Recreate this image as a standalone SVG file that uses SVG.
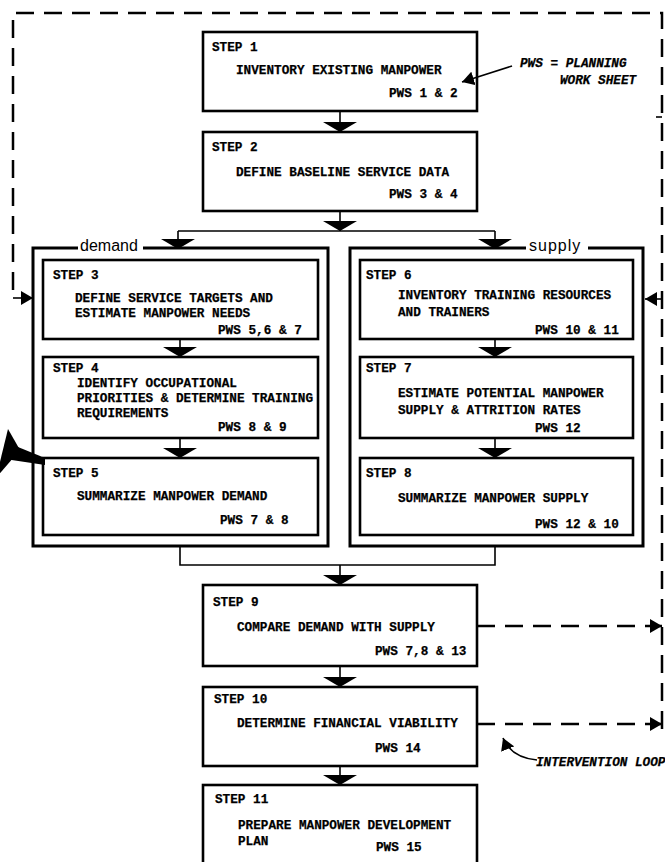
<svg xmlns="http://www.w3.org/2000/svg" width="665" height="862" viewBox="0 0 665 862">
<style>
.box{fill:#fff;stroke:#000;stroke-width:2.6}
.outer{fill:none;stroke:#000;stroke-width:3}
.t{font-family:"Liberation Mono",monospace;font-weight:bold;font-size:12.7px;fill:#000;stroke:#000;stroke-width:0.25}
.ti{font-family:"Liberation Mono",monospace;font-weight:bold;font-style:italic;font-size:12.7px;fill:#000;stroke:#000;stroke-width:0.25}
.lbl{font-family:"Liberation Sans",Arial,sans-serif;font-size:16px;fill:#000}
.con{fill:none;stroke:#000;stroke-width:1.6}
.dash{fill:none;stroke:#000;stroke-width:2.5;stroke-dasharray:18 10}
.blk{fill:#000;stroke:none}
</style>
<defs>
<marker id="tri" markerUnits="userSpaceOnUse" viewBox="0 0 10 34" refX="10" refY="17" markerWidth="10" markerHeight="34" orient="auto"><path d="M0,0 L10,17 L0,34 Z"/></marker>
<marker id="ah" markerUnits="userSpaceOnUse" viewBox="0 0 12 14" refX="12" refY="7" markerWidth="12" markerHeight="14" orient="auto"><path d="M0,0 L12,7 L0,14 Z"/></marker>
</defs>

<g id="groups">
<g id="demand-group">
<path class="outer" d="M78,248 H33 V546 H328 V248 H143"/>
<text class="lbl" x="80" y="251">demand</text>
</g>
<g id="supply-group">
<path class="outer" d="M526,248 H350 V546 H643 V248 H588"/>
<text class="lbl" x="529" y="251" letter-spacing="1">supply</text>
</g>
</g>

<g id="step1">
<rect class="box" x="203" y="32" width="274" height="79"/>
<text class="t" x="212" y="51">STEP 1</text>
<text class="t" x="236" y="74">INVENTORY EXISTING MANPOWER</text>
<text class="t" x="389" y="97">PWS 1 &amp; 2</text>
</g>
<g id="pws-note">
<text class="ti" x="520" y="67">PWS = PLANNING</text>
<text class="ti" x="560" y="84">WORK SHEET</text>
</g>
<g id="step2">
<rect class="box" x="203" y="132" width="274" height="79"/>
<text class="t" x="212" y="151">STEP 2</text>
<text class="t" x="236" y="176">DEFINE BASELINE SERVICE DATA</text>
<text class="t" x="389" y="198">PWS 3 &amp; 4</text>
</g>

<g id="step3">
<rect class="box" x="43" y="260" width="275" height="79"/>
<text class="t" x="53" y="279">STEP 3</text>
<text class="t" x="75" y="302">DEFINE SERVICE TARGETS AND</text>
<text class="t" x="75" y="317">ESTIMATE MANPOWER NEEDS</text>
<text class="t" x="218" y="334">PWS 5,6 &amp; 7</text>
</g>
<g id="step4">
<rect class="box" x="43" y="357" width="275" height="81"/>
<text class="t" x="53" y="372">STEP 4</text>
<text class="t" x="77" y="387">IDENTIFY OCCUPATIONAL</text>
<text class="t" x="77" y="402">PRIORITIES &amp; DETERMINE TRAINING</text>
<text class="t" x="77" y="417">REQUIREMENTS</text>
<text class="t" x="218" y="431">PWS 8 &amp; 9</text>
</g>
<g id="step5">
<rect class="box" x="43" y="458" width="275" height="77"/>
<text class="t" x="53" y="477">STEP 5</text>
<text class="t" x="77" y="500">SUMMARIZE MANPOWER DEMAND</text>
<text class="t" x="220" y="524">PWS 7 &amp; 8</text>
</g>

<g id="step6">
<rect class="box" x="360" y="260" width="273" height="79"/>
<text class="t" x="366" y="279">STEP 6</text>
<text class="t" x="398" y="299">INVENTORY TRAINING RESOURCES</text>
<text class="t" x="398" y="316">AND TRAINERS</text>
<text class="t" x="535" y="334">PWS 10 &amp; 11</text>
</g>
<g id="step7">
<rect class="box" x="360" y="357" width="273" height="81"/>
<text class="t" x="366" y="372">STEP 7</text>
<text class="t" x="398" y="397">ESTIMATE POTENTIAL MANPOWER</text>
<text class="t" x="398" y="414">SUPPLY &amp; ATTRITION RATES</text>
<text class="t" x="535" y="432">PWS 12</text>
</g>
<g id="step8">
<rect class="box" x="360" y="458" width="273" height="77"/>
<text class="t" x="366" y="477">STEP 8</text>
<text class="t" x="398" y="502">SUMMARIZE MANPOWER SUPPLY</text>
<text class="t" x="535" y="528">PWS 12 &amp; 10</text>
</g>

<g id="step9">
<rect class="box" x="203" y="585" width="274" height="81"/>
<text class="t" x="213" y="606">STEP 9</text>
<text class="t" x="237" y="631">COMPARE DEMAND WITH SUPPLY</text>
<text class="t" x="375" y="655">PWS 7,8 &amp; 13</text>
</g>
<g id="step10">
<rect class="box" x="203" y="687" width="274" height="79"/>
<text class="t" x="214" y="703">STEP 10</text>
<text class="t" x="237" y="727">DETERMINE FINANCIAL VIABILITY</text>
<text class="t" x="375" y="752">PWS 14</text>
</g>
<g id="intervention-note">
<text class="ti" x="536" y="766" font-size="12.1px">INTERVENTION LOOP</text>
</g>
<g id="step11">
<rect class="box" x="203" y="785" width="274" height="82"/>
<text class="t" x="215" y="803">STEP 11</text>
<text class="t" x="238" y="829">PREPARE MANPOWER DEVELOPMENT</text>
<text class="t" x="238" y="845">PLAN</text>
<text class="t" x="376" y="851">PWS 15</text>
</g>

<g id="connectors">
<path class="con" d="M340,111 V132" marker-end="url(#tri)"/>
<path class="con" d="M340,211 V231" marker-end="url(#tri)"/>
<path class="con" d="M178,231 H495"/>
<path class="con" d="M178,231 V249" marker-end="url(#tri)"/>
<path class="con" d="M495,231 V249" marker-end="url(#tri)"/>
<path class="con" d="M180,339 V357" marker-end="url(#tri)"/>
<path class="con" d="M180,438 V458" marker-end="url(#tri)"/>
<path class="con" d="M495,339 V357" marker-end="url(#tri)"/>
<path class="con" d="M495,438 V458" marker-end="url(#tri)"/>
<path class="con" d="M180,546 V565 H495 V546"/>
<path class="con" d="M340,565 V585" marker-end="url(#tri)"/>
<path class="con" d="M340,666 V687" marker-end="url(#tri)"/>
<path class="con" d="M340,766 V785" marker-end="url(#tri)"/>
<path class="dash" d="M662,729 V13 H13 V298"/>
<path class="con" stroke-width="2" d="M13,298 H33" marker-end="url(#ah)"/>
<path class="con" stroke-width="2" d="M662,299 H645" marker-end="url(#ah)"/>
<path class="con" stroke-width="2" d="M656,117 H662"/>
<path class="dash" stroke-dasharray="14 10" d="M477,626 H662" marker-end="url(#ah)"/>
<path class="dash" stroke-dasharray="14 10" d="M477,724 H662" marker-end="url(#ah)"/>
<path class="con" stroke-width="2" d="M512,66 L462,82" marker-end="url(#ah)"/>
<path class="con" stroke-width="2" d="M537,760 C518,758 508,750 503,738" marker-end="url(#ah)"/>
<path class="blk" d="M13,445 L45,458 L45,465 L5,459 Z"/>
<path class="blk" d="M8,429 L20,450 L-4,478 Z"/>
</g>
</svg>
